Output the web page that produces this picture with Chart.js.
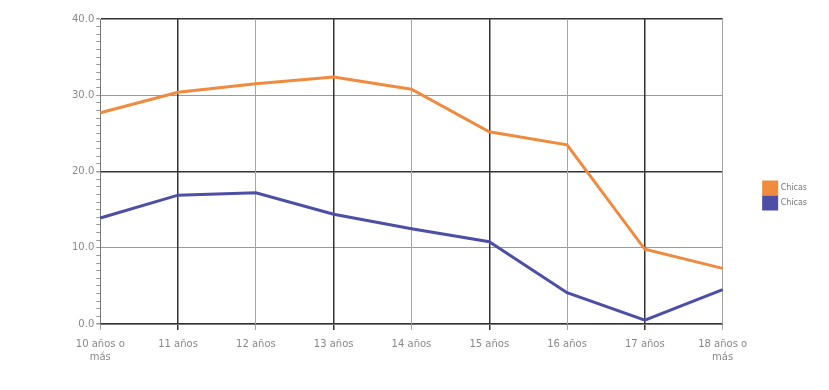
<!DOCTYPE html>
<html>
<head>
<meta charset="utf-8">
<script src="https://cdn.jsdelivr.net/npm/chart.js@4/dist/chart.umd.min.js"></script>
<style>
  html, body { margin: 0; padding: 0; background: #fff; }
  #wrap { width: 829px; height: 390px; }
</style>
</head>
<body>
<div id="wrap"><canvas id="ageChart"></canvas></div>
<script>
// categories and series
const ages = [['10 años o', 'más'], '11 años', '12 años', '13 años', '14 años', '15 años', '16 años', '17 años', ['18 años o', 'más']];
const seriesNames = ['Chicas', 'Chicas'];
const orangeValues = [27.7, 30.4, 31.5, 32.4, 30.8, 25.2, 23.5, 9.8, 7.3];
const blueValues = [13.9, 16.9, 17.2, 14.4, 12.5, 10.8, 4.1, 0.5, 4.5];
const yMax = 40;

const ctx = document.getElementById('ageChart').getContext('2d');
const ageChart = new Chart(ctx, {
    type: 'line',
    data: {
        labels: ages,
        datasets: [{
            label: seriesNames[0],
            data: orangeValues,
            borderColor: '#ef8a3f',
            backgroundColor: '#ef8a3f',
            borderWidth: 3,
            pointRadius: 0,
            tension: 0
        }, {
            label: seriesNames[1],
            data: blueValues,
            borderColor: '#4d4fa6',
            backgroundColor: '#4d4fa6',
            borderWidth: 3,
            pointRadius: 0,
            tension: 0
        }]
    },
    options: {
        responsive: true,
        maintainAspectRatio: false,
        animation: false,
        layout: {
            padding: { left: 70, right: 12, top: 19, bottom: 18 }
        },
        plugins: {
            legend: {
                position: 'right',
                labels: {
                    boxWidth: 13,
                    boxHeight: 12,
                    padding: 3,
                    color: '#777',
                    font: { size: 8, family: 'DejaVu Sans' }
                }
            },
            tooltip: { enabled: false }
        },
        scales: {
            y: {
                min: 0,
                max: yMax,
                ticks: {
                    stepSize: 1,
                    autoSkip: false,
                    color: '#888',
                    padding: 2,
                    font: { size: 10, family: 'DejaVu Sans' },
                    callback: function(value) {
                        return value % 10 === 0 ? value.toFixed(1) : '';
                    }
                },
                border: { color: '#777', width: 1 },
                grid: {
                    tickLength: 4,
                    tickColor: '#999',
                    color: function(c) {
                        const v = c.tick.value;
                        if (v % 10 !== 0) return 'rgba(0,0,0,0)';
                        return v % 20 === 0 ? '#333' : '#9a9a9a';
                    },
                    lineWidth: function(c) {
                        return c.tick.value % 20 === 0 ? 1.5 : 1;
                    }
                }
            },
            // empty spacer between the plot and the legend
            gap: {
                type: 'linear',
                position: 'right',
                display: true,
                ticks: { display: false },
                grid: { display: false },
                border: { display: false },
                afterFit: function(scale) {
                    scale.width = 38;
                }
            },
            x: {
                offset: false,
                ticks: {
                    color: '#888',
                    maxRotation: 0,
                    autoSkip: false,
                    padding: 8,
                    font: { size: 10, family: 'DejaVu Sans', lineHeight: 1.3 }
                },
                border: { color: '#777', width: 1 },
                grid: {
                    tickLength: 6,
                    color: function(c) {
                        return c.index % 2 === 1 ? '#333' : '#a5a5a5';
                    },
                    lineWidth: function(c) {
                        return c.index % 2 === 1 ? 1.5 : 1;
                    }
                }
            }
        }
    }
});
</script>
</body>
</html>
